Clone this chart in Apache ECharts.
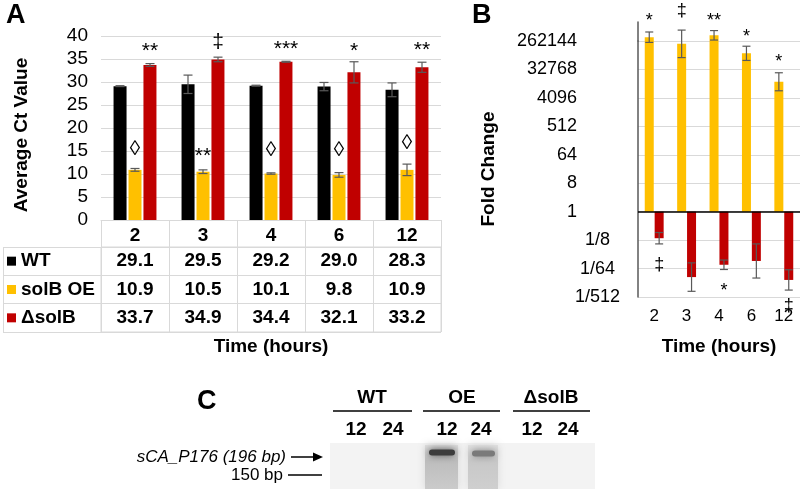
<!DOCTYPE html>
<html><head><meta charset="utf-8">
<script src="https://cdn.jsdelivr.net/npm/echarts@6/dist/echarts.min.js"></script>
<style>html,body{margin:0;padding:0;background:#fff}#c{width:800px;height:489px}</style>
</head><body><div id="c"></div>
<script>
const FONT = "'Liberation Sans', Arial, sans-serif";
// ---- Panel A data ----
const timeCats = ['2', '3', '4', '6', '12'];
const rowNames = ['WT', 'solB OE', 'ΔsolB'];
const ctWT  = [29.1, 29.5, 29.2, 29.0, 28.3];
const ctOE  = [10.9, 10.5, 10.1, 9.8, 10.9];
const ctDel = [33.7, 34.9, 34.4, 32.1, 33.2];
const ctErrWT  = [0.1, 2.0, 0.1, 0.9, 1.5];
const ctErrOE  = [0.3, 0.4, 0.15, 0.5, 1.25];
const ctErrDel = [0.3, 0.5, 0.1, 2.3, 1.1];
const sigA_del_text = ['**', '‡', '***', '*', '**'];
const sigA_del_y    = [36.7, 38.7, 37.2, 36.7, 37.0];
const sigA_oe_text  = ['◊', '**', '◊', '◊', '◊'];
const sigA_oe_y     = [15.4, 13.9, 15.2, 15.2, 16.7];
// ---- Panel B data (log2 fold change) ----
const fcLog2OE  = [18.4, 17.7, 18.6, 16.7, 13.7];
const fcLog2Del = [-2.8, -6.9, -5.6, -5.2, -7.2];
const fcErrOE   = [0.55, 1.45, 0.5, 0.75, 0.95];
const fcErrDel  = [0.6, 1.5, 0.5, 1.8, 1.07];
const fcTickValues = [-9, -6, -3, 0, 3, 6, 9, 12, 15, 18];
const fcTickLabels = ['1/512', '1/64', '1/8', '1', '8', '64', '512', '4096', '32768', '262144'];
const sigB_oe_text  = ['*', '‡', '**', '*', '*'];
const sigB_oe_y     = [20.1, 21.2, 20.1, 18.4, 15.8];
const sigB_del_text = ['‡', '', '*', '', '‡'];
const sigB_del_y    = [-5.6, 0, -8.4, 0, -10];
// ---- Panel C labels ----
const gelGroups = ['WT', 'OE', 'ΔsolB'];
const gelLanes = ['12', '24'];

const C_WT = '#000000', C_OE = '#FFC000', C_DEL = '#C00000';
const GRID_C = '#d9d9d9';

function errSeries(xi, yi, vals, errs, offset, halfCap) {
  return {
    type: 'custom', xAxisIndex: xi, yAxisIndex: yi, z: 5, silent: true, clip: false,
    data: vals.map((v, i) => [i, v - errs[i], v + errs[i]]),
    renderItem(params, api) {
      const lo = api.coord([api.value(0), api.value(1)]);
      const hi = api.coord([api.value(0), api.value(2)]);
      const x = lo[0] + offset;
      const st = { stroke: '#595959', lineWidth: 1.2 };
      return { type: 'group', children: [
        { type: 'line', shape: { x1: x, y1: lo[1], x2: x, y2: hi[1] }, style: st },
        { type: 'line', shape: { x1: x - halfCap, y1: lo[1], x2: x + halfCap, y2: lo[1] }, style: st },
        { type: 'line', shape: { x1: x - halfCap, y1: hi[1], x2: x + halfCap, y2: hi[1] }, style: st }
      ]};
    }
  };
}
function sigSeries(xi, yi, texts, ys, offset, fontSize) {
  return {
    type: 'custom', xAxisIndex: xi, yAxisIndex: yi, z: 6, silent: true, clip: false,
    data: ys.map((y, i) => [i, y]),
    renderItem(params, api) {
      const t = texts[params.dataIndex];
      if (!t) return;
      const p = api.coord([api.value(0), api.value(1)]);
      return { type: 'text', x: p[0] + offset, y: p[1],
        style: { text: t, fill: '#000', font: fontSize + 'px ' + FONT, textAlign: 'center', textVerticalAlign: 'middle' } };
    }
  };
}
function tableSeries(rowName, vals) {
  return {
    type: 'scatter', xAxisIndex: 1, yAxisIndex: 1, symbolSize: 0, silent: true,
    itemStyle: { opacity: 1 },
    data: vals.map((v, i) => [i, rowName, v]),
    label: { show: true, position: 'inside', formatter: p => p.data[2].toFixed(1),
      fontFamily: FONT, fontWeight: 'bold', fontSize: 19, color: '#000', textBorderWidth: 0, opacity: 1 }
  };
}

const rowKeys = { 'WT': 'a', 'solB OE': 'b', 'ΔsolB': 'c' };

const chart = echarts.init(document.getElementById('c'), null, { renderer: 'canvas' });
const option = {
  backgroundColor: '#fff',
  animation: false,
  textStyle: { fontFamily: FONT },
  grid: [
    { left: 101, right: 359, top: 36, bottom: 269 },
    { left: 101, right: 359, top: 247, bottom: 157, show: true, borderColor: GRID_C, borderWidth: 1 },
    { left: 638, right: 0, top: 41, bottom: 192 },
    // short grid above panel B's top tick, only to carry the axis line up
    { left: 638, right: 0, top: 22, height: 19 }
  ],
  xAxis: [
    { type: 'category', gridIndex: 0, data: timeCats, boundaryGap: true,
      axisLine: { show: true, lineStyle: { color: GRID_C, width: 1 } },
      axisTick: { show: true, length: 27, interval: 0, lineStyle: { color: GRID_C } },
      axisLabel: { interval: 0, margin: 6, fontFamily: FONT, fontWeight: 'bold', fontSize: 19, color: '#000' },
      name: 'Time (hours)', nameLocation: 'middle', nameGap: 117,
      nameTextStyle: { fontFamily: FONT, fontWeight: 'bold', fontSize: 19, color: '#000' } },
    { type: 'category', gridIndex: 1, data: timeCats, boundaryGap: true,
      axisLine: { show: false }, axisTick: { show: false }, axisLabel: { show: false },
      splitLine: { show: true, interval: 0, lineStyle: { color: GRID_C } } },
    { type: 'category', gridIndex: 2, data: timeCats, boundaryGap: true,
      axisLine: { show: false, onZero: false }, axisTick: { show: false },
      axisLabel: { interval: 0, margin: 11, fontFamily: FONT, fontSize: 17, color: '#000' },
      name: 'Time (hours)', nameLocation: 'middle', nameGap: 40,
      nameTextStyle: { fontFamily: FONT, fontWeight: 'bold', fontSize: 19, color: '#000' } },
    { type: 'category', gridIndex: 3, data: timeCats, show: false }
  ],
  yAxis: [
    { type: 'value', gridIndex: 0, min: 0, max: 40, interval: 5,
      axisLine: { show: false }, axisTick: { show: false },
      axisLabel: { margin: 13, fontFamily: FONT, fontSize: 19, color: '#000' },
      splitLine: { show: true, lineStyle: { color: GRID_C } },
      name: 'Average Ct Value', nameLocation: 'middle', nameGap: 70,
      nameTextStyle: { fontFamily: FONT, fontWeight: 'bold', fontSize: 19, color: '#000', padding: [0, 0, 0, -14] } },
    { type: 'category', gridIndex: 1, data: rowNames, inverse: true, boundaryGap: true,
      axisLine: { show: true, lineStyle: { color: GRID_C } },
      axisTick: { show: true, length: 98, interval: 0, lineStyle: { color: GRID_C } },
      splitLine: { show: true, interval: 0, lineStyle: { color: GRID_C } },
      axisLabel: { interval: 0, margin: 94, align: 'left',
        formatter: v => '{sq' + rowKeys[v] + '|}{t|' + v + '}',
        rich: {
          sqa: { width: 9, height: 9, backgroundColor: C_WT },
          sqb: { width: 9, height: 9, backgroundColor: C_OE },
          sqc: { width: 9, height: 9, backgroundColor: C_DEL },
          t: { fontFamily: FONT, fontWeight: 'bold', fontSize: 19, color: '#000', padding: [0, 0, 0, 5] }
        } } },
    { type: 'value', gridIndex: 2, min: -9, max: 18, interval: 3,
      axisLine: { show: true, onZero: false, lineStyle: { color: '#595959', width: 1.5 } },
      axisTick: { show: false },
      splitLine: { show: true, lineStyle: { color: GRID_C, width: 1 } },
      axisLabel: { margin: 18,
        formatter: v => {
          const i = fcTickValues.indexOf(v);
          if (i < 0) return '';
          return (v >= 0 ? '{p|' : '{n' + (-v) + '|') + fcTickLabels[i] + '}';
        },
        rich: {
          p:  { fontFamily: FONT, fontSize: 18, color: '#000', padding: [0, 43, 0, 0] },
          n3: { fontFamily: FONT, fontSize: 18, color: '#000', padding: [0, 10, 0, 0] },
          n6: { fontFamily: FONT, fontSize: 18, color: '#000', padding: [0, 5, 0, 0] },
          n9: { fontFamily: FONT, fontSize: 18, color: '#000', padding: [0, 0, 0, 0] }
        } },
      name: 'Fold Change', nameLocation: 'middle', nameGap: 140,
      nameTextStyle: { fontFamily: FONT, fontWeight: 'bold', fontSize: 19, color: '#000', padding: [0, 0, 0, 0] } },
    { type: 'value', gridIndex: 3, min: 0, max: 1,
      axisLine: { show: true, lineStyle: { color: '#595959', width: 1.5 } },
      axisTick: { show: false }, axisLabel: { show: false }, splitLine: { show: false } }
  ],
  series: [
    { type: 'bar', name: 'WT', xAxisIndex: 0, yAxisIndex: 0, data: ctWT, barWidth: 13, barGap: '15%', itemStyle: { color: C_WT } },
    { type: 'bar', name: 'solB OE', xAxisIndex: 0, yAxisIndex: 0, data: ctOE, barWidth: 13, barGap: '15%', itemStyle: { color: C_OE } },
    { type: 'bar', name: 'ΔsolB', xAxisIndex: 0, yAxisIndex: 0, data: ctDel, barWidth: 13, barGap: '15%', itemStyle: { color: C_DEL } },
    errSeries(0, 0, ctWT, ctErrWT, -15, 4.5),
    errSeries(0, 0, ctOE, ctErrOE, 0, 4.5),
    errSeries(0, 0, ctDel, ctErrDel, 15, 4.5),
    sigSeries(0, 0, sigA_del_text, sigA_del_y, 15, 21),
    sigSeries(0, 0, sigA_oe_text, sigA_oe_y, 0, 21),
    tableSeries('WT', ctWT),
    tableSeries('solB OE', ctOE),
    tableSeries('ΔsolB', ctDel),
    { type: 'bar', name: 'OE fold', xAxisIndex: 2, yAxisIndex: 2, data: fcLog2OE, barWidth: 9, barGap: '10%', clip: false, itemStyle: { color: C_OE },
      markLine: { silent: true, symbol: 'none', label: { show: false }, lineStyle: { color: '#000', width: 1.5, type: 'solid' }, data: [{ yAxis: 0 }] } },
    { type: 'bar', name: 'Del fold', xAxisIndex: 2, yAxisIndex: 2, data: fcLog2Del, barWidth: 9, barGap: '10%', clip: false, itemStyle: { color: C_DEL } },
    errSeries(2, 2, fcLog2OE, fcErrOE, -4.95, 4),
    errSeries(2, 2, fcLog2Del, fcErrDel, 4.95, 4),
    sigSeries(2, 2, sigB_oe_text, sigB_oe_y, -4.95, 18),
    sigSeries(2, 2, sigB_del_text, sigB_del_y, 4.95, 18)
  ],
  graphic: [
    { type: 'text', x: 6, y: 2, style: { text: 'A', font: 'bold 27px ' + FONT, fill: '#000' } },
    { type: 'text', x: 472, y: 2, style: { text: 'B', font: 'bold 27px ' + FONT, fill: '#000' } },
    { type: 'text', x: 197, y: 388, style: { text: 'C', font: 'bold 27px ' + FONT, fill: '#000' } },
    { type: 'line', shape: { x1: 3.5, y1: 247, x2: 3.5, y2: 332 }, style: { stroke: GRID_C, lineWidth: 1 } },
    // gel background & lanes
    { type: 'rect', shape: { x: 330, y: 443, width: 265, height: 46 }, style: { fill: '#f3f3f3' } },
    { type: 'rect', shape: { x: 425, y: 445, width: 33, height: 44 },
      style: { fill: new echarts.graphic.LinearGradient(0, 0, 0, 1, [
        { offset: 0, color: '#dcdcdc' }, { offset: 0.35, color: '#bdbdbd' }, { offset: 1, color: '#cbcbcb' }]),
        shadowBlur: 8, shadowColor: '#d6d6d6' } },
    { type: 'rect', shape: { x: 468, y: 445, width: 30, height: 44 },
      style: { fill: new echarts.graphic.LinearGradient(0, 0, 0, 1, [
        { offset: 0, color: '#e0e0e0' }, { offset: 0.35, color: '#c8c8c8' }, { offset: 1, color: '#cfcfcf' }]),
        shadowBlur: 8, shadowColor: '#dadada' } },
    { type: 'rect', shape: { x: 429, y: 449.5, width: 26, height: 6, r: 3 }, style: { fill: '#3c3c3c', shadowBlur: 7, shadowColor: '#4a4a4a' } },
    { type: 'rect', shape: { x: 472, y: 450.5, width: 23, height: 6, r: 3 }, style: { fill: '#7a7a7a', shadowBlur: 7, shadowColor: '#808080' } },
    // gel labels
    { type: 'text', x: 372, y: 398, style: { text: gelGroups[0], font: 'bold 19px ' + FONT, fill: '#000', textAlign: 'center', textVerticalAlign: 'middle' } },
    { type: 'text', x: 462, y: 398, style: { text: gelGroups[1], font: 'bold 19px ' + FONT, fill: '#000', textAlign: 'center', textVerticalAlign: 'middle' } },
    { type: 'text', x: 551, y: 398, style: { text: gelGroups[2], font: 'bold 19px ' + FONT, fill: '#000', textAlign: 'center', textVerticalAlign: 'middle' } },
    { type: 'line', shape: { x1: 333, y1: 411, x2: 412, y2: 411 }, style: { stroke: '#000', lineWidth: 1.5 } },
    { type: 'line', shape: { x1: 423, y1: 411, x2: 500, y2: 411 }, style: { stroke: '#000', lineWidth: 1.5 } },
    { type: 'line', shape: { x1: 513, y1: 411, x2: 590, y2: 411 }, style: { stroke: '#000', lineWidth: 1.5 } },
    { type: 'text', x: 356, y: 430, style: { text: gelLanes[0], font: 'bold 19px ' + FONT, fill: '#000', textAlign: 'center', textVerticalAlign: 'middle' } },
    { type: 'text', x: 393, y: 430, style: { text: gelLanes[1], font: 'bold 19px ' + FONT, fill: '#000', textAlign: 'center', textVerticalAlign: 'middle' } },
    { type: 'text', x: 447, y: 430, style: { text: gelLanes[0], font: 'bold 19px ' + FONT, fill: '#000', textAlign: 'center', textVerticalAlign: 'middle' } },
    { type: 'text', x: 481, y: 430, style: { text: gelLanes[1], font: 'bold 19px ' + FONT, fill: '#000', textAlign: 'center', textVerticalAlign: 'middle' } },
    { type: 'text', x: 532, y: 430, style: { text: gelLanes[0], font: 'bold 19px ' + FONT, fill: '#000', textAlign: 'center', textVerticalAlign: 'middle' } },
    { type: 'text', x: 568, y: 430, style: { text: gelLanes[1], font: 'bold 19px ' + FONT, fill: '#000', textAlign: 'center', textVerticalAlign: 'middle' } },
    { type: 'text', x: 286, y: 457, style: { text: 'sCA_P176 (196 bp)', font: 'italic 17px ' + FONT, fill: '#000', textAlign: 'right', textVerticalAlign: 'middle' } },
    { type: 'line', shape: { x1: 291, y1: 457, x2: 316, y2: 457 }, style: { stroke: '#000', lineWidth: 1.5 } },
    { type: 'polygon', shape: { points: [[323, 457], [313, 452.5], [313, 461.5]] }, style: { fill: '#000' } },
    { type: 'text', x: 283, y: 475, style: { text: '150 bp', font: '17px ' + FONT, fill: '#000', textAlign: 'right', textVerticalAlign: 'middle' } },
    { type: 'line', shape: { x1: 288, y1: 475, x2: 322, y2: 475 }, style: { stroke: '#000', lineWidth: 1.5 } }
  ]
};
chart.setOption(option);
</script></body></html>
